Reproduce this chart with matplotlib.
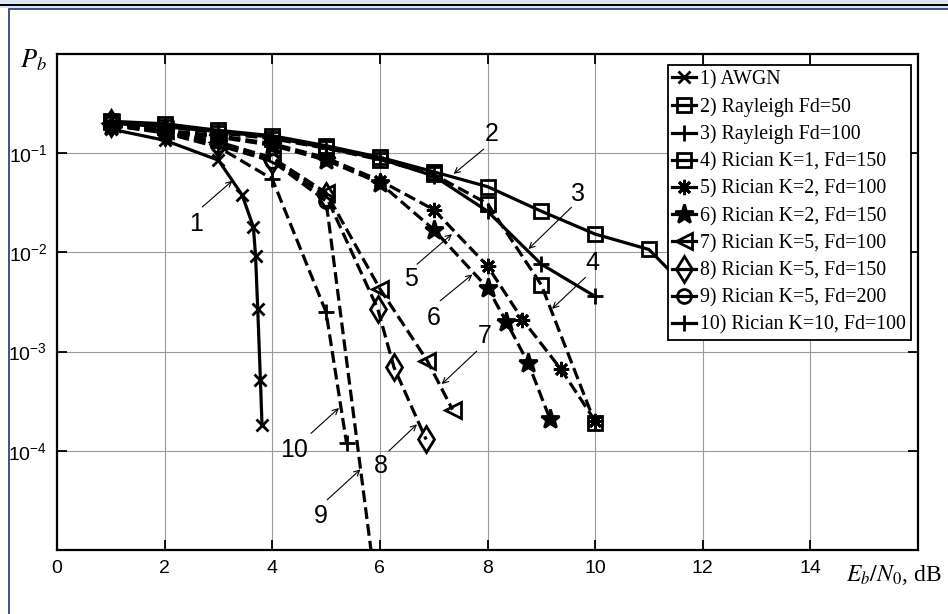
import matplotlib.pyplot as plt
from matplotlib.patches import Rectangle
from matplotlib.ticker import NullLocator

plt.rcParams['font.family'] = ['Liberation Sans', 'DejaVu Sans']

# ---- data ----
labels = [
    "1) AWGN",
    "2) Rayleigh Fd=50",
    "3) Rayleigh Fd=100",
    "4) Rician K=1, Fd=150",
    "5) Rician K=2, Fd=100",
    "6) Rician K=2, Fd=150",
    "7) Rician K=5, Fd=100",
    "8) Rician K=5, Fd=150",
    "9) Rician K=5, Fd=200",
    "10) Rician K=10, Fd=100",
]

x_awgn = [1, 2, 3, 3.44, 3.65, 3.69, 3.73, 3.78, 3.81]
p_awgn = [0.175, 0.135, 0.085, 0.038, 0.018, 0.0092, 0.0027, 0.00052, 0.00018]

x_ray50 = [1, 2, 3, 4, 5, 6, 7, 8, 9, 10, 11, 12]
p_ray50 = [0.21, 0.198, 0.17, 0.15, 0.119, 0.091, 0.065, 0.046, 0.026, 0.0153, 0.0107, 0.003]

x_ray100 = [1, 2, 3, 4, 5, 6, 7, 8, 9, 10]
p_ray100 = [0.2, 0.185, 0.165, 0.145, 0.113, 0.088, 0.059, 0.026, 0.0076, 0.0036]

x_k1_150 = [1, 2, 3, 4, 5, 6, 7, 8, 9, 10]
p_k1_150 = [0.205, 0.185, 0.16, 0.14, 0.112, 0.086, 0.061, 0.031, 0.0047, 0.00019]

x_k2_100 = [1, 2, 3, 4, 5, 6, 7, 8, 8.65, 9.36, 10]
p_k2_100 = [0.19, 0.17, 0.15, 0.125, 0.09, 0.053, 0.027, 0.0073, 0.0021, 0.00067, 0.0002]

x_k2_150 = [1, 2, 3, 4, 5, 6, 7, 8, 8.35, 8.76, 9.16]
p_k2_150 = [0.19, 0.165, 0.145, 0.12, 0.085, 0.05, 0.017, 0.0044, 0.002, 0.00076, 0.00021]

x_k5_100 = [1, 2, 3, 4, 5, 6, 6.88, 7.35]
p_k5_100 = [0.2, 0.17, 0.13, 0.09, 0.04, 0.0043, 0.00081, 0.00026]

x_k5_150 = [1, 2, 3, 4, 5, 5.96, 6.26, 6.86]
p_k5_150 = [0.2, 0.165, 0.125, 0.085, 0.037, 0.0027, 0.0007, 0.00013]

x_k5_200 = [1, 2, 3, 4, 5, 6]
p_k5_200 = [0.2, 0.165, 0.12, 0.083, 0.033, 2e-6]

x_k10_100 = [1, 2, 3, 4, 5, 5.38]
p_k10_100 = [0.19, 0.16, 0.115, 0.055, 0.0025, 0.00012]

xs = [x_awgn, x_ray50, x_ray100, x_k1_150, x_k2_100, x_k2_150,
      x_k5_100, x_k5_150, x_k5_200, x_k10_100]
ps = [p_awgn, p_ray50, p_ray100, p_k1_150, p_k2_100, p_k2_150,
      p_k5_100, p_k5_150, p_k5_200, p_k10_100]

# curve number labels: text position, arrow tail, arrow head (data coords)
note_text = ["1", "2", "3", "4", "5", "6", "7", "8", "9", "10"]
note_pos = [(2.59, 0.0193), (8.07, 0.157), (9.69, 0.0388), (9.94, 0.0079), (6.57, 0.0054),
            (7.0, 0.0022), (7.94, 0.00145), (6.01, 7.0e-5), (4.90, 2.2e-5), (4.40, 1.03e-4)]
note_tail = [(2.70, 0.0287), (7.93, 0.110), (9.56, 0.0285), (9.82, 0.0056), (6.69, 0.0076),
             (7.12, 0.00325), (7.80, 0.00101), (6.17, 1.0e-4), (5.02, 3.2e-5), (4.72, 1.5e-4)]
note_head = [(3.26, 0.0528), (7.37, 0.0618), (8.76, 0.0108), (9.20, 0.0027), (7.34, 0.0153),
             (7.72, 0.0060), (7.15, 0.00047), (6.69, 1.85e-4), (5.64, 6.5e-5), (5.24, 2.7e-4)]

# ---- styles ----
asterisk = (8, 2, 0)
markers = ['x', 's', '+', 's', asterisk, '*', '<', 'd', 'o', '+']
lstyles = ['-', '-', '-', '--', '--', '--', '--', '--', '--', '--']
msizes = [9, 10, 12, 10, 11, 14, 11, 13, 10, 12]
mfcs = ['none', 'none', 'none', 'none', 'none', 'black', 'none', 'none', 'none', 'none']

fig = plt.figure(figsize=(9.48, 6.14), dpi=100)

# page frame
fig.patches.append(Rectangle((0, 1 - 8 / 614), 1, 8 / 614, transform=fig.transFigure,
                             facecolor='#dce6f4', edgecolor='none', zorder=0))
fig.patches.append(Rectangle((0, 1 - 6 / 614), 1, 1.8 / 614, transform=fig.transFigure,
                             facecolor='black', edgecolor='none', zorder=1))
fig.patches.append(Rectangle((8.5 / 948, -0.01), 1.2, 1 - 9 / 614 + 0.01, transform=fig.transFigure,
                             facecolor='none', edgecolor='#27457f', lw=1.3, zorder=1))

ax = fig.add_axes([57 / 948, 1 - 550 / 614, (918 - 57) / 948, (550 - 54) / 614])

for i in range(10):
    ax.semilogy(xs[i], ps[i], color='black', ls=lstyles[i], lw=2.3, marker=markers[i],
                ms=msizes[i], mew=2.0, mfc=mfcs[i], mec='black', label=labels[i])

ax.set_xlim(0, 16)
ax.set_ylim(1e-5, 1)
ax.set_xticks([0, 2, 4, 6, 8, 10, 12, 14])
ax.set_yticks([1e-1, 1e-2, 1e-3, 1e-4])
ax.set_yticklabels([r'$\mathregular{10^{-1}}$', r'$\mathregular{10^{-2}}$',
                    r'$\mathregular{10^{-3}}$', r'$\mathregular{10^{-4}}$'])
ax.yaxis.set_minor_locator(NullLocator())
ax.tick_params(which='both', direction='in', top=True, right=True, length=7, width=1.3,
               labelsize=14, pad=7)
ax.grid(True, color='#9a9a9a', lw=0.8)
for sp in ax.spines.values():
    sp.set_linewidth(1.6)

for t, pos, tail, head in zip(note_text, note_pos, note_tail, note_head):
    ax.text(pos[0], pos[1], t, fontsize=18, ha='center', va='center')
    ax.annotate('', xy=head, xytext=tail,
                arrowprops=dict(arrowstyle='->', lw=0.8, color='black', shrinkA=0, shrinkB=0))

leg = ax.legend(loc='upper right', bbox_to_anchor=(0.992, 0.978), numpoints=1,
                prop={'family': 'Liberation Serif', 'size': 14.3}, handlelength=1.2,
                handletextpad=0.2, labelspacing=0.4, borderpad=0.25, borderaxespad=0,
                fancybox=False, framealpha=1, edgecolor='black')
leg.get_frame().set_linewidth(1.3)
leg.set_zorder(10)
for h in leg.legend_handles:
    h.set_linestyle('-')

fig.text(33 / 948, 1 - 60 / 614, r'$P_b$', fontsize=19, math_fontfamily='stix',
         ha='center', va='center')
fig.text(846 / 948, 1 - 575 / 614, r'$E_b/N_0$, dB', fontsize=17, math_fontfamily='stix',
         family='Liberation Serif', ha='left', va='center')

fig.savefig('out.png', dpi=100)
